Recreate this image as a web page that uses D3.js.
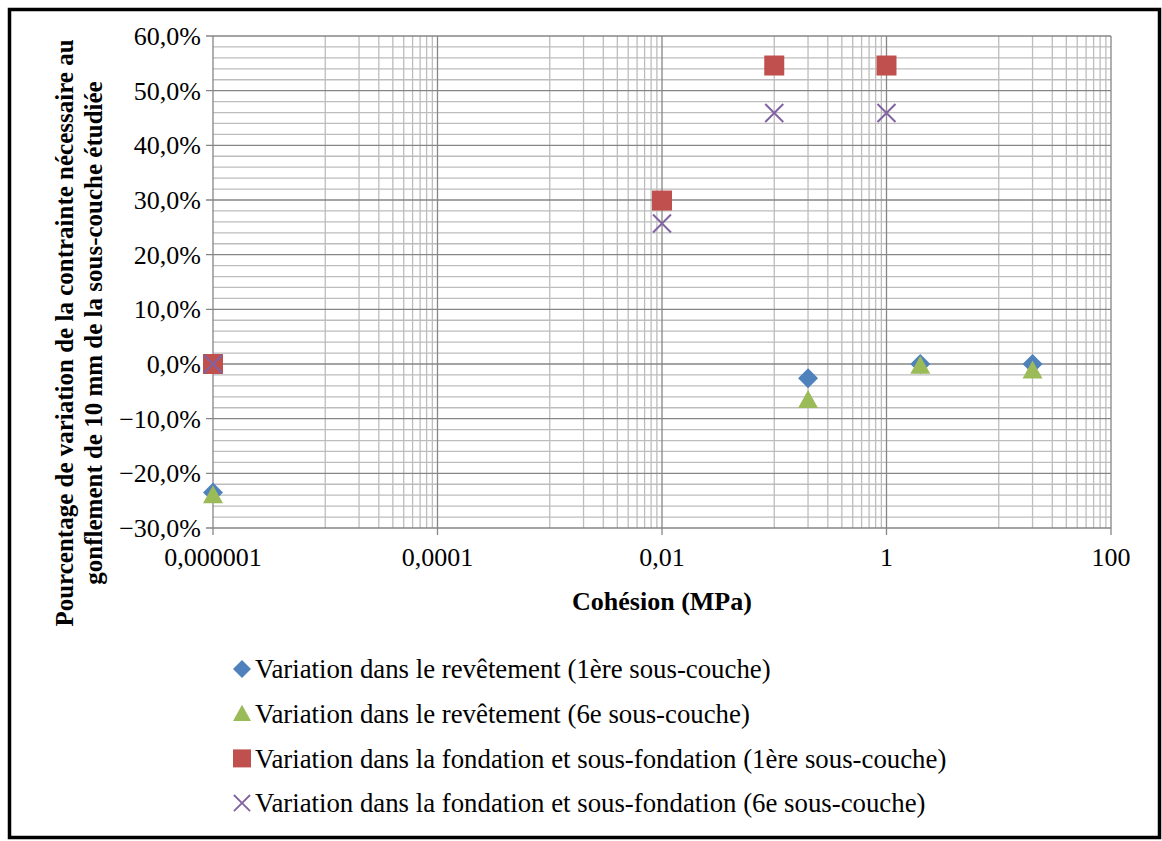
<!DOCTYPE html>
<html>
<head>
<meta charset="utf-8">
<script src="https://cdn.jsdelivr.net/npm/d3@7"></script>
<style>
  body { margin: 0; background: #fff; }
  svg { display: block; font-family: "Liberation Serif", "Times New Roman", "DejaVu Serif", serif; }
</style>
</head>
<body>
<div class="container"></div>
<script>
// Cohésion vs variation de contrainte

const width = 1162, height = 841;
const margin = {top: 36, right: 51, bottom: 313, left: 213};

// data
const cohesion1 = [0.000001, 0.2, 2, 20];
const revetement1 = [-23.5, -2.6, 0.0, 0.0];
const revetement6 = [-24.0, -6.6, -0.3, -1.2];
const cohesion2 = [0.000001, 0.01, 0.1, 1];
const fondation1 = [0.0, 29.9, 54.6, 54.6];
const fondation6 = [0.0, 25.7, 45.9, 45.9];

const xTicks = [0.000001, 0.0001, 0.01, 1, 100];
const xTickLabels = ["0,000001", "0,0001", "0,01", "1", "100"];
const yTicks = [-30, -20, -10, 0, 10, 20, 30, 40, 50, 60];

const seriesNames = [
  "Variation dans le revêtement (1ère sous-couche)",
  "Variation dans le revêtement (6e sous-couche)",
  "Variation dans la fondation et sous-fondation (1ère sous-couche)",
  "Variation dans la fondation et sous-fondation (6e sous-couche)"
];
const colors = ["#4F81BD", "#9BBB59", "#C0504D", "#8064A2"];
const shapes = ["diamond", "triangle", "square", "cross"];

const series = [
  {x: cohesion1, y: revetement1},
  {x: cohesion1, y: revetement6},
  {x: cohesion2, y: fondation1},
  {x: cohesion2, y: fondation6}
];

const x = d3.scaleLog()
  .domain([0.000001, 100])
  .range([margin.left, width - margin.right]);

const y = d3.scaleLinear()
  .domain([-30, 60])
  .range([height - margin.bottom, margin.top]);

const svg = d3.select(".container").append("svg")
  .attr("width", width)
  .attr("height", height);

svg.append("rect")
  .attr("width", width).attr("height", height)
  .attr("fill", "#fff");

// outer frame
svg.append("rect")
  .attr("x", 9.5).attr("y", 9.5)
  .attr("width", 1150).attr("height", 828)
  .attr("fill", "none")
  .attr("stroke", "#000")
  .attr("stroke-width", 3.5);

const grid = svg.append("g");

// minor horizontal lines, every 2 %
const yMinor = d3.range(-28, 60, 2).filter(v => v % 10 !== 0);
grid.selectAll(".hmin")
  .data(yMinor)
  .join("line")
    .attr("x1", x.range()[0]).attr("x2", x.range()[1])
    .attr("y1", d => y(d)).attr("y2", d => y(d))
    .attr("stroke", "#bdbdbd")
    .attr("stroke-width", 1.3);

// minor vertical lines: Excel puts them at k*10^(major+1), k = 1..9
const xMinor = [];
xTicks.slice(0, -1).forEach(t => {
  for (let k = 1; k <= 9; k++) xMinor.push(t * 10 * k);
});
grid.selectAll(".vmin")
  .data(xMinor)
  .join("line")
    .attr("x1", d => x(d)).attr("x2", d => x(d))
    .attr("y1", y.range()[0]).attr("y2", y.range()[1])
    .attr("stroke", "#bdbdbd")
    .attr("stroke-width", 1.3);

// major grid
grid.selectAll(".hmaj")
  .data(yTicks)
  .join("line")
    .attr("x1", x.range()[0] - 7).attr("x2", x.range()[1])
    .attr("y1", d => y(d)).attr("y2", d => y(d))
    .attr("stroke", "#868686")
    .attr("stroke-width", 1.3);

grid.selectAll(".vmaj")
  .data(xTicks)
  .join("line")
    .attr("x1", d => x(d)).attr("x2", d => x(d))
    .attr("y1", y.range()[0] + 7).attr("y2", y.range()[1])
    .attr("stroke", "#868686")
    .attr("stroke-width", 1.3);

// tick labels
svg.append("g")
  .selectAll("text")
  .data(yTicks)
  .join("text")
    .attr("x", x.range()[0] - 12)
    .attr("y", d => y(d))
    .attr("dy", "0.35em")
    .attr("text-anchor", "end")
    .style("font-size", "26px")
    .text(d => d3.format(".1f")(d).replace(".", ",") + "%");

svg.append("g")
  .selectAll("text")
  .data(xTicks)
  .join("text")
    .attr("x", d => x(d))
    .attr("y", y.range()[0] + 38)
    .attr("text-anchor", "middle")
    .style("font-size", "26px")
    .text((d, i) => xTickLabels[i]);

// axis titles
svg.append("text")
  .attr("x", (x.range()[0] + x.range()[1]) / 2)
  .attr("y", 610)
  .attr("text-anchor", "middle")
  .style("font-size", "26px")
  .style("font-weight", "bold")
  .text("Cohésion (MPa)");

const yTitle = svg.append("text")
  .attr("transform", "translate(0,333) rotate(-90)")
  .attr("text-anchor", "middle")
  .style("font-size", "25px")
  .style("font-weight", "bold");
yTitle.append("tspan").attr("x", 0).attr("y", 73)
  .text("Pourcentage de variation de la contrainte nécessaire au");
yTitle.append("tspan").attr("x", 0).attr("y", 102)
  .text("gonflement de 10 mm de la sous-couche étudiée");

// markers
function drawMarker(sel, shape, color) {
  if (shape === "diamond") {
    sel.append("path").attr("d", "M0,-10L10,0L0,10L-10,0Z").attr("fill", color);
  } else if (shape === "triangle") {
    sel.append("path").attr("d", "M0,-10L10,8L-10,8Z").attr("fill", color);
  } else if (shape === "square") {
    sel.append("rect").attr("x", -10).attr("y", -10).attr("width", 20).attr("height", 20).attr("fill", color);
  } else {
    sel.append("path").attr("d", "M-9,-9L9,9M-9,9L9,-9")
      .attr("stroke", color).attr("stroke-width", 2).attr("fill", "none");
  }
}

series.forEach((s, i) => {
  const pts = s.x.map((v, j) => [v, s.y[j]]);
  svg.append("g")
    .selectAll("g")
    .data(pts)
    .join("g")
      .attr("transform", d => `translate(${x(d[0])},${y(d[1])})`)
      .each(function() { drawMarker(d3.select(this), shapes[i], colors[i]); });
});

// legend
const legend = svg.append("g");
const rows = legend.selectAll("g")
  .data(seriesNames)
  .join("g")
    .attr("transform", (d, i) => `translate(242,${669 + i * 44.7})`);
rows.each(function(d, i) {
  const g = d3.select(this).append("g").attr("transform", "scale(0.9)");
  drawMarker(g, shapes[i], colors[i]);
});
rows.append("text")
  .attr("x", 13)
  .attr("dy", "0.35em")
  .style("font-size", "26.8px")
  .text(d => d);
</script>
</body>
</html>
